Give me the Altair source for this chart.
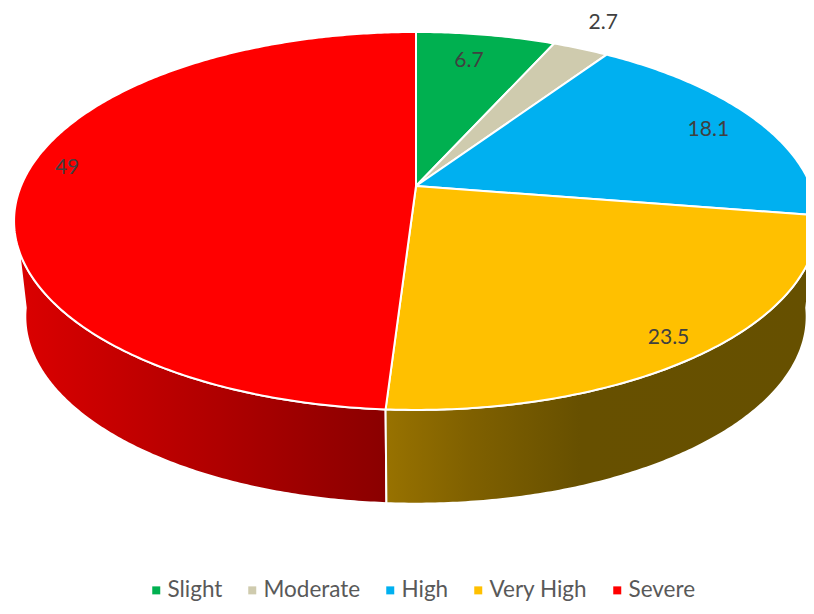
import numpy as np
import pandas as pd
import altair as alt

categories = ["Slight", "Moderate", "High", "Very High", "Severe"]
values = [6.7, 2.7, 18.1, 23.5, 49]
colors = ["#00B050", "#CFCBAE", "#00B0F0", "#FFC000", "#FF0000"]
label_text = ["6.7", "2.7", "18.1", "23.5", "49"]
label_radius = [0.80, 1.21, 0.85, 0.91, 0.905]
label_turn = [-1.0, -1.0, 1.0, 1.2, 4.5]

CX, CY = 416.0, 186.0
A, B, K = 395.0, 182.5, 0.185
SIDE_SA, SIDE_SB, SIDE_CY = 0.972, 0.99, 282.0


def project(theta, radius=1.0, sa=1.0, sb=1.0, cy=CY):
    px = radius * np.sin(theta)
    py = radius * np.cos(theta)
    den = 1 + K * py
    return CX + sa * A * px / den, cy - sb * B * py / den


cum = np.concatenate([[0.0], np.cumsum(values)]) / sum(values) * 2 * np.pi

top_rows = []
for i, cat in enumerate(categories):
    th = np.linspace(cum[i], cum[i + 1], max(6, int(values[i] * 6)))
    xs, ys = project(th)
    xs = np.concatenate([[CX], xs, [CX]])
    ys = np.concatenate([[CY], ys, [CY]])
    for j, (x, y) in enumerate(zip(xs, ys)):
        top_rows.append({"cat": cat, "idx": j, "x": x, "y": y})
top_df = pd.DataFrame(top_rows)


def side_df(t0, t1):
    th = np.radians(np.linspace(t0, t1, 160))
    x1, y1 = project(th)
    x2, y2 = project(th, sa=SIDE_SA, sb=SIDE_SB, cy=SIDE_CY)
    xs = np.concatenate([x1, x2[::-1], x1[:1]])
    ys = np.concatenate([y1, y2[::-1], y1[:1]])
    return pd.DataFrame({"idx": np.arange(len(xs)), "x": xs, "y": ys})


split = np.degrees(cum[4])
x_scale = alt.Scale(domain=[8, 806], range=[0, 798], nice=False, zero=False)
y_scale = alt.Scale(domain=[8, 606], range=[0, 598], nice=False, zero=False)
X = alt.X("x:Q", scale=x_scale, axis=None)
Y = alt.Y("y:Q", scale=y_scale, axis=None)
ORDER = alt.Order("idx:Q")

grad_red = alt.Gradient(
    gradient="linear", x1=0, x2=1, y1=0, y2=0,
    stops=[alt.GradientStop(offset=0, color="#DC0000"),
           alt.GradientStop(offset=1, color="#8A0000")],
)
grad_yellow = alt.Gradient(
    gradient="linear", x1=0, x2=1, y1=0, y2=0,
    stops=[alt.GradientStop(offset=0, color="#987200"),
           alt.GradientStop(offset=0.2, color="#7F6000"),
           alt.GradientStop(offset=0.45, color="#675000"),
           alt.GradientStop(offset=1, color="#665000")],
)

side_red = alt.Chart(side_df(split, 262)).mark_line(
    filled=True, fill=grad_red, stroke="white", strokeWidth=2, strokeJoin="round"
).encode(x=X, y=Y, order=ORDER)
side_yellow = alt.Chart(side_df(98, split)).mark_line(
    filled=True, fill=grad_yellow, stroke="white", strokeWidth=2, strokeJoin="round"
).encode(x=X, y=Y, order=ORDER)

top = alt.Chart(top_df).mark_line(
    filled=True, stroke="white", strokeWidth=2, strokeJoin="round"
).encode(
    x=X, y=Y, order=ORDER, detail="cat:N",
    fill=alt.Fill(
        "cat:N",
        scale=alt.Scale(domain=categories, range=colors),
        legend=alt.Legend(
            title=None, orient="none", legendX=137, legendY=571,
            direction="horizontal", columns=5,
            symbolType="square", symbolSize=64, symbolStrokeWidth=0,
            symbolOpacity=1, labelFont="Lato", labelFontSize=22.5,
            labelColor="#595959", labelOffset=0, columnPadding=18,
        ),
    ),
)

mid = (cum[:-1] + cum[1:]) / 2 + np.radians(label_turn)
lx, ly = project(mid, radius=np.array(label_radius))
label_df = pd.DataFrame({"x": lx, "y": ly, "t": label_text})
labels = alt.Chart(label_df).mark_text(
    font="Lato", fontSize=21, color="#404040", align="center", baseline="middle"
).encode(x=X, y=Y, text="t:N")

chart = (
    alt.layer(side_red, side_yellow, top, labels)
    .properties(width=798, height=598, padding=0, autosize=alt.AutoSizeParams(type="none"), background="white")
    .configure_view(stroke=None)
)
chart.save("out.html", embed_options={"renderer": "svg", "actions": False})
